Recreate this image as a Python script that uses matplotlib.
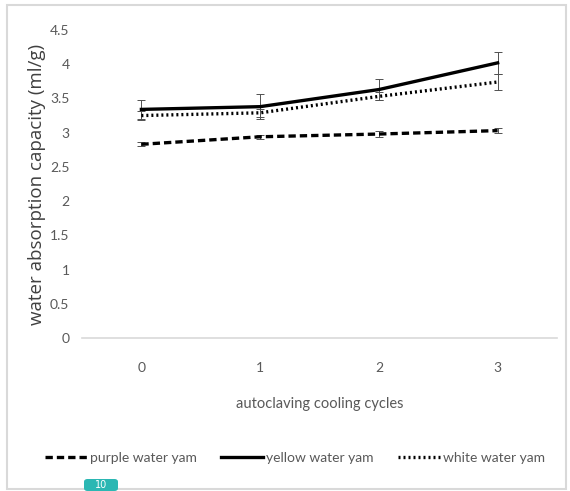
import matplotlib.pyplot as plt
from matplotlib.lines import Line2D
from matplotlib.patches import Rectangle, FancyBboxPatch

cycles = [0, 1, 2, 3]
cycle_labels = ["0", "1", "2", "3"]

purple = [2.83, 2.94, 2.98, 3.03]
purple_err = [0.03, 0.03, 0.04, 0.04]
yellow = [3.34, 3.38, 3.63, 4.02]
yellow_err = [0.14, 0.18, 0.16, 0.16]
white = [3.25, 3.29, 3.53, 3.74]
white_err = [0.06, 0.06, 0.06, 0.12]

series_names = ["purple water yam", "yellow water yam", "white water yam"]

y_ticks = [0, 0.5, 1, 1.5, 2, 2.5, 3, 3.5, 4, 4.5]
y_tick_labels = ["0", "0.5", "1", "1.5", "2", "2.5", "3", "3.5", "4", "4.5"]

tick_font = "Lato"
dash_styles = [(0, (2.2, 1.2)), "-", (0, (0.6, 0.9))]

fig = plt.figure(figsize=(5.7, 4.91), dpi=100)
ax = fig.add_axes([82 / 570, 1 - 338 / 491, (557 - 82) / 570, (338 - 30) / 491])

# outer frame of the chart
fig.patches.append(Rectangle((7 / 570, 1 - 489 / 491), (566 - 7) / 570, (489 - 5) / 491,
                             transform=fig.transFigure, fill=False,
                             edgecolor="#d9d9d9", linewidth=1.5))

err_kw = dict(ecolor="#505050", elinewidth=0.7, capsize=3, capthick=0.7)
for vals, errs, ls in zip([purple, yellow, white], [purple_err, yellow_err, white_err], dash_styles):
    ax.errorbar(cycles, vals, yerr=errs, color="black", linewidth=2.4, linestyle=ls, **err_kw)

ax.set_xlim(-0.5, 3.5)
ax.set_ylim(0, 4.5)
ax.set_xticks(cycles)
ax.set_xticklabels(cycle_labels, fontfamily=tick_font, fontsize=10, color="#595959")
ax.set_yticks(y_ticks)
ax.set_yticklabels(y_tick_labels, fontfamily=tick_font, fontsize=10, color="#595959")
ax.tick_params(axis="both", length=0)
ax.tick_params(axis="y", pad=9)
ax.tick_params(axis="x", pad=17)

for s in ["top", "right", "left"]:
    ax.spines[s].set_visible(False)
ax.spines["bottom"].set_color("#d9d9d9")
ax.spines["bottom"].set_linewidth(1.2)

ax.set_ylabel("water absorption capacity (ml/g)", fontfamily="Open Sans", fontsize=13.5,
              color="#404040", labelpad=3)
ax.set_xlabel("autoclaving cooling cycles", fontfamily=tick_font, fontsize=10.5,
              color="#595959", labelpad=17)

handles = [Line2D([], [], color="black", linewidth=2.4, linestyle=ls) for ls in dash_styles]
leg = ax.legend(handles, series_names, loc="center", bbox_to_anchor=(295 / 570, 1 - 458 / 491),
                bbox_transform=fig.transFigure, ncol=3, frameon=False,
                handlelength=3.0, handletextpad=0.2, columnspacing=1.8,
                prop={"family": tick_font, "size": 10})
for t in leg.get_texts():
    t.set_color("#595959")

# small page badge at the bottom edge
badge = FancyBboxPatch((84 / 570, 0.0), 34 / 570, 12 / 491, transform=fig.transFigure,
                       boxstyle="round,pad=0,rounding_size=0.006",
                       facecolor="#2bb7b3", edgecolor="none")
fig.patches.append(badge)
fig.text(101 / 570, 1 / 491, "10", color="white", fontsize=7, ha="center", va="bottom")

fig.savefig("out.png", dpi=100)
